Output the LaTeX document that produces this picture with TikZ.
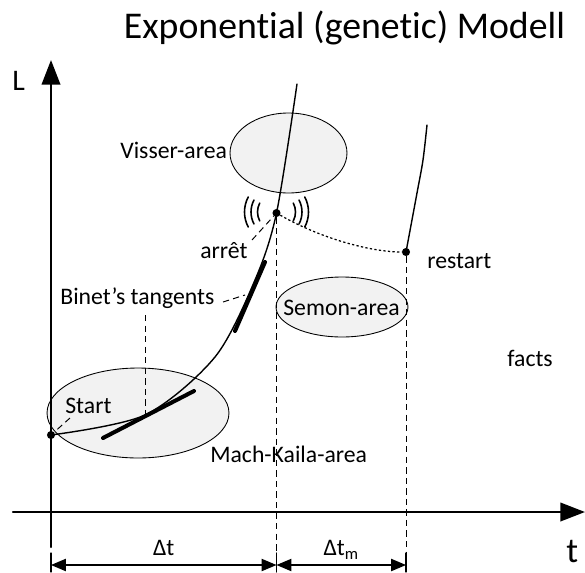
\documentclass[tikz,border=0pt]{standalone}
\usepackage{fontspec}
\setmainfont{Carlito}[Ligatures=NoCommon]
\usetikzlibrary{arrows.meta,shapes.geometric}
\tikzset{
  area/.style={ellipse,draw=black,line width=.5pt,fill=gray!10,inner sep=0pt},
  lbl/.style={inner sep=0pt,anchor=base west},
  leader/.style={line width=.55pt,dash pattern=on 3.6pt off 2.4pt,line cap=butt},
  dot/.style={circle,fill=black,inner sep=0pt,minimum size=4.6pt},
  curve/.style={line width=.8pt},
  tangent/.style={line width=2.3pt},
  axis/.style={line width=1.3pt,->,>={Triangle[length=14pt,width=10.5pt]}},
  dim/.style={line width=.7pt,<->,>={Triangle[length=8.5pt,width=7pt]}},
  wave/.style={line width=.9pt}
}
\begin{document}
\begin{tikzpicture}[x=.02cm,y=-.02cm,font=\fontsize{13.5}{16}\selectfont,line join=round,line cap=round]
\def\ox{51} \def\oy{512} % Ursprung
\def\ta{276.5} \def\tb{406} \def\dy{565}
\useasboundingbox (0,0) rectangle (585,572);
% Bereiche
\node[area,minimum width=3.64cm,minimum height=1.8cm] (mach) at (138,413) {};
\node[area,minimum width=2.34cm,minimum height=1.6cm] (visser) at (288.5,153) {};
\node[area,minimum width=2.64cm,minimum height=1.2cm] (semon) at (342,307) {};
% Achsen
\draw[axis] (\ox,547) -- (\ox,60);
\draw[axis] (13,\oy) -- (585,\oy);
\node[lbl,font=\fontsize{17}{20}\selectfont] (L) at (12,90) {L};
\node[lbl,font=\fontsize{20}{24}\selectfont] (t) at (566,562) {t};
\node[anchor=base,inner sep=0pt,font=\fontsize{21.5}{26}\selectfont] (title) at (344.5,38) {Exponential (genetic) Modell};
% Punkte
\node[dot] (start) at (\ox,435) {};
\node[dot] (arret) at (\ta,213) {};
\node[dot] (rst) at (\tb,252) {};
% Kurven
\draw[curve] plot[smooth] coordinates {(\ox,435) (145,415) (215,357) (255,280) (\ta,213) (297,84)};
\draw[curve] plot[smooth] coordinates {(\tb,252) (417,193) (423,160) (427,125)};
\draw[line width=.7pt,dash pattern=on 1.3pt off 1.3pt,line cap=butt] (arret) .. controls (320,238) and (370,252) .. (rst);
\draw[tangent] (103,438) -- (194,391);
\draw[tangent] (235,331) -- (265,262);
% Wellen
\foreach \r in {19,25.5,32}{
  \draw[wave] (\ta,212) ++(152:\r) arc[start angle=152,end angle=208,radius=\r];
  \draw[wave] (\ta,212) ++(-28:\r) arc[start angle=-28,end angle=28,radius=\r];
}
% Beschriftungen
\node[lbl] (lvisser) at (120,158) {Visser-area};
\node[lbl] (larret) at (200,258) {arrêt};
\node[lbl] (lbinet) at (60,304) {Binet’s tangents};
\node[lbl] (lstart) at (65,413) {Start};
\node[lbl] (lmach) at (210,462) {Mach-Kaila-area};
\node[lbl] (lsemon) at (283,315) {Semon-area};
\node[lbl] (lrst) at (427,268) {restart};
\node[lbl] (lfacts) at (507,366) {facts};
\coordinate (sl) at (70,418);
\coordinate (al) at (252,240);
\coordinate (bl) at (223,302);
\coordinate (bu) at (145,315);
\coordinate (bt) at (145,415);
\coordinate (bb) at (245,295);
\draw[leader] (sl) -- (start);
\draw[leader] (al) -- (arret);
\draw[leader] (bl) -- (bb);
\draw[leader] (bu) -- (bt);
\draw[leader] (arret) -- (\ta,553);
\draw[leader] (rst) -- (\tb,553);
% Zeitabschnitte
\foreach \x in {\ox,\ta,\tb} \draw[line width=.7pt] (\x,553) -- (\x,572);
\draw[dim] (\ox,\dy) -- (\ta,\dy) node[midway,anchor=base,inner sep=0pt,yshift=5.5pt] (dt) {Δt};
\draw[dim] (\ta,\dy) -- (\tb,\dy) node[midway,anchor=base,inner sep=0pt,yshift=5.5pt] (dtm) {Δt\textsubscript{m}};
\end{tikzpicture}
\end{document}
